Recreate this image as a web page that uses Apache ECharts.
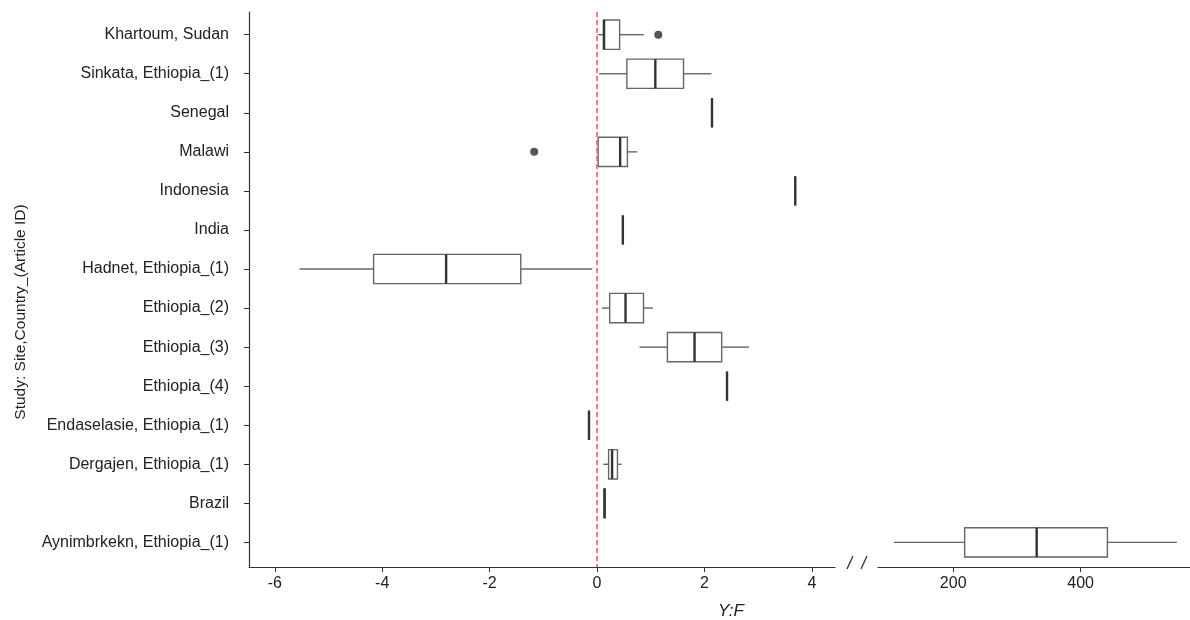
<!DOCTYPE html>
<html>
<head>
<meta charset="utf-8">
<title>Y:F by study</title>
<script src="https://cdn.jsdelivr.net/npm/echarts@6/dist/echarts.min.js"></script>
<style>
  html, body { margin: 0; background: #fff; }
  #chart { width: 1190px; height: 620px; }
</style>
</head>
<body>
<div id="chart"></div>
<script>
// studies, top to bottom
const studies = [
  'Khartoum, Sudan',
  'Sinkata, Ethiopia_(1)',
  'Senegal',
  'Malawi',
  'Indonesia',
  'India',
  'Hadnet, Ethiopia_(1)',
  'Ethiopia_(2)',
  'Ethiopia_(3)',
  'Ethiopia_(4)',
  'Endaselasie, Ethiopia_(1)',
  'Dergajen, Ethiopia_(1)',
  'Brazil',
  'Aynimbrkekn, Ethiopia_(1)'
];
// [lower whisker, q1, median, q3, upper whisker]
const boxStats = [
  [0.01, 0.12, 0.13, 0.42, 0.87],
  [0.04, 0.555, 1.085, 1.61, 2.13],
  [2.14, 2.14, 2.14, 2.14, 2.14],
  [0.02, 0.02, 0.43, 0.565, 0.75],
  [3.69, 3.69, 3.69, 3.69, 3.69],
  [0.48, 0.48, 0.48, 0.48, 0.48],
  [-5.54, -4.16, -2.81, -1.42, -0.09],
  [0.09, 0.235, 0.53, 0.865, 1.04],
  [0.79, 1.31, 1.815, 2.32, 2.83],
  [2.42, 2.42, 2.42, 2.42, 2.42],
  [-0.15, -0.15, -0.15, -0.15, -0.15],
  [0.115, 0.215, 0.28, 0.38, 0.455],
  [0.125, 0.13, 0.14, 0.15, 0.155],
  [107, 218, 331, 442, 551]
];
// [value, study index]
const outliers = [[1.14, 0], [-1.17, 3]];
const brokenStudy = 13; // shown on the right side of the axis break
const leftTicks = [-6, -4, -2, 0, 2, 4];
const rightTicks = [200, 400];

const font = "'Liberation Sans', Arial, sans-serif";
const axisColor = '#333';
const textColor = '#222';

const leftData = [];
const rightData = [];
boxStats.forEach(function (s, i) {
  (i === brokenStudy ? rightData : leftData).push([i].concat(s));
});

function renderBox(params, api) {
  const cat = api.value(0);
  const lo = api.coord([api.value(1), cat]);
  const q1 = api.coord([api.value(2), cat]);
  const md = api.coord([api.value(3), cat]);
  const q3 = api.coord([api.value(4), cat]);
  const hi = api.coord([api.value(5), cat]);
  const h = api.size([0, 1])[1] * 0.75;
  const y = md[1];
  const thin = { stroke: '#666', lineWidth: 1.4 };
  return {
    type: 'group',
    children: [
      { type: 'line', shape: { x1: lo[0], y1: y, x2: q1[0], y2: y }, style: thin },
      { type: 'line', shape: { x1: q3[0], y1: y, x2: hi[0], y2: y }, style: thin },
      {
        type: 'rect',
        shape: { x: q1[0], y: y - h / 2, width: q3[0] - q1[0], height: h },
        style: { fill: '#fff', stroke: '#666', lineWidth: 1.4 }
      },
      {
        type: 'line',
        shape: { x1: md[0], y1: y - h / 2, x2: md[0], y2: y + h / 2 },
        style: { stroke: '#333', lineWidth: 2.4 }
      }
    ]
  };
}

const catIdx = studies.map(function (s, i) { return i; });

const yBase = {
  type: 'value',
  position: 'left',
  inverse: true,
  min: -0.581,
  max: 13.63,
  splitLine: { show: false }
};

const xBase = {
  type: 'value',
  position: 'bottom',
  splitLine: { show: false },
  axisLine: { onZero: false, lineStyle: { color: axisColor, width: 1.2 } },
  axisTick: { length: 5, lineStyle: { color: axisColor } },
  axisLabel: { color: textColor, fontSize: 16, fontFamily: font, margin: 9 }
};

const chart = echarts.init(document.getElementById('chart'));
chart.setOption({
  animation: false,
  grid: [
    { left: 249, top: 12, width: 586, bottom: 53 },
    { left: 878, top: 12, right: 0, bottom: 53 }
  ],
  xAxis: [
    Object.assign({}, xBase, {
      gridIndex: 0, min: -6.48, max: 4.43,
      axisTick: Object.assign({}, xBase.axisTick, { customValues: leftTicks }),
      axisLabel: Object.assign({}, xBase.axisLabel, { customValues: leftTicks })
    }),
    Object.assign({}, xBase, {
      gridIndex: 1, min: 82, max: 571.6,
      axisTick: Object.assign({}, xBase.axisTick, { customValues: rightTicks }),
      axisLabel: Object.assign({}, xBase.axisLabel, { customValues: rightTicks })
    })
  ],
  yAxis: [
    Object.assign({}, yBase, {
      gridIndex: 0,
      axisLine: { show: true, onZero: false, lineStyle: { color: axisColor, width: 1.2 } },
      axisTick: { show: true, length: 5, customValues: catIdx, lineStyle: { color: axisColor } },
      axisLabel: {
        customValues: catIdx,
        formatter: function (v) { return studies[Math.round(v)]; },
        color: textColor, fontSize: 16, fontFamily: font, margin: 20
      }
    }),
    Object.assign({}, yBase, {
      gridIndex: 1,
      axisLine: { show: false, onZero: false },
      axisTick: { show: false },
      axisLabel: { show: false }
    })
  ],
  series: [
    {
      type: 'custom',
      xAxisIndex: 0, yAxisIndex: 0,
      renderItem: renderBox,
      encode: { x: [1, 2, 3, 4, 5], y: 0 },
      data: leftData,
      z: 3
    },
    {
      type: 'custom',
      xAxisIndex: 1, yAxisIndex: 1,
      renderItem: renderBox,
      encode: { x: [1, 2, 3, 4, 5], y: 0 },
      data: rightData
    },
    {
      type: 'scatter',
      xAxisIndex: 0, yAxisIndex: 0,
      symbolSize: 8,
      itemStyle: { color: '#2a2a2a' },
      data: outliers,
      z: 4,
      markLine: {
        silent: true,
        symbol: 'none',
        label: { show: false },
        lineStyle: { color: '#ff5a5a', type: [5, 3], width: 1.6 },
        data: [{ xAxis: 0 }]
      }
    }
  ],
  graphic: [
    {
      type: 'text',
      left: 718, top: 603,
      style: { text: 'Y:F', font: 'italic 17px ' + font, fill: textColor }
    },
    {
      type: 'text',
      x: 21, y: 312, rotation: Math.PI / 2,
      style: {
        text: 'Study: Site,Country_(Article ID)',
        font: '15.5px ' + font, fill: textColor,
        align: 'center', verticalAlign: 'middle'
      }
    },
    { type: 'line', shape: { x1: 847, y1: 569, x2: 853, y2: 556 }, style: { stroke: '#333', lineWidth: 1.3 } },
    { type: 'line', shape: { x1: 861, y1: 569, x2: 867, y2: 556 }, style: { stroke: '#333', lineWidth: 1.3 } }
  ]
});
</script>
</body>
</html>
